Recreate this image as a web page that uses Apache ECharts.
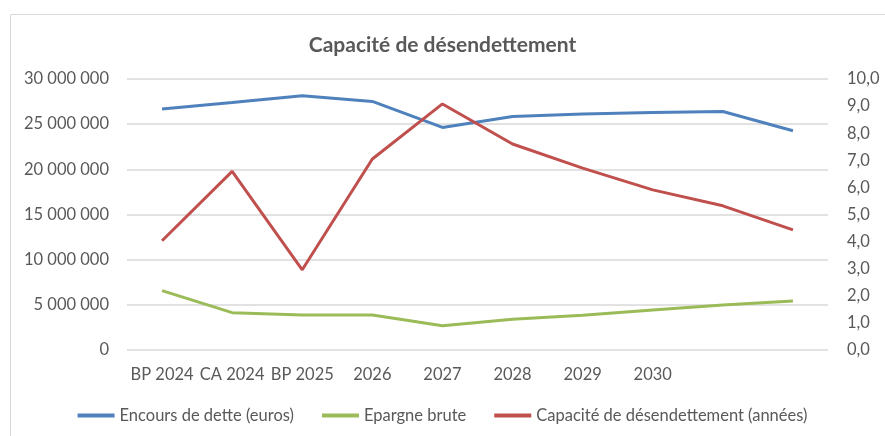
<!DOCTYPE html>
<html>
<head>
<meta charset="utf-8">
<script src="https://cdn.jsdelivr.net/npm/echarts@6/dist/echarts.min.js"></script>
<style>
	html, body { margin: 0; padding: 0; background: #fff; }
	#chart { width: 885px; height: 436px; }
</style>
</head>
<body>
<div id="chart"></div>
<script>
	var categories = ['BP 2024', 'CA 2024', 'BP 2025', '2026', '2027', '2028', '2029', '2030', '', ''];
	var encoursDette = [26680000, 27410000, 28150000, 27520000, 24640000, 25860000, 26120000, 26300000, 26410000, 24270000];
	var epargneBrute = [6570000, 4130000, 3880000, 3880000, 2690000, 3400000, 3850000, 4430000, 4990000, 5430000];
	var capaciteDesendettement = [4.03, 6.59, 2.96, 7.05, 9.08, 7.60, 6.71, 5.91, 5.32, 4.43];

	var textColor = '#595959';
	var fontFamily = 'Lato, "Open Sans", sans-serif';

	function formatEuros(v) {
		return String(v).replace(/\B(?=(\d{3})+(?!\d))/g, ' ');
	}

	var chart = echarts.init(document.getElementById('chart'));
	var option = {
		animation: false,
		textStyle: { fontFamily: fontFamily },
		graphic: [{
			type: 'rect',
			shape: { x: 10.5, y: 14.5, width: 900, height: 440 },
			style: { fill: 'none', stroke: '#d9d9d9', lineWidth: 1 },
			silent: true
		}],
		title: {
			text: 'Capacité de désendettement',
			left: 'center',
			top: 30,
			textStyle: {
				color: textColor,
				fontSize: 21,
				fontWeight: 'bold',
				fontFamily: fontFamily
			}
		},
		legend: {
			left: 'center',
			top: 402,
			icon: 'rect',
			itemWidth: 37,
			itemHeight: 4,
			itemGap: 28,
			textStyle: { color: textColor, fontSize: 16.5, fontFamily: fontFamily },
			data: ['Encours de dette (euros)', 'Epargne brute', 'Capacité de désendettement (années)']
		},
		grid: {
			left: 127,
			right: 57,
			top: 79,
			bottom: 86
		},
		xAxis: {
			type: 'category',
			data: categories,
			boundaryGap: true,
			axisLine: { show: false },
			axisTick: { show: false },
			axisLabel: {
				interval: 0,
				color: textColor,
				fontSize: 16.5,
				margin: 16,
				fontFamily: fontFamily
			}
		},
		yAxis: [{
				type: 'value',
				min: 0,
				max: 30000000,
				interval: 5000000,
				axisLine: { show: false },
				axisTick: { show: false },
				splitLine: { lineStyle: { color: '#d9d9d9', width: 1.5 } },
				axisLabel: {
					color: textColor,
					fontSize: 16.5,
					margin: 18,
					fontFamily: fontFamily,
					formatter: formatEuros
				}
			},
			{
				type: 'value',
				min: 0,
				max: 10,
				interval: 1,
				position: 'right',
				axisLine: { show: false },
				axisTick: { show: false },
				splitLine: { show: false },
				axisLabel: {
					color: textColor,
					fontSize: 16.5,
					margin: 19,
					fontFamily: fontFamily,
					formatter: function(v) {
						return v.toFixed(1).replace('.', ',');
					}
				}
			}
		],
		series: [{
				name: 'Encours de dette (euros)',
				type: 'line',
				data: encoursDette,
				showSymbol: false,
				color: '#4f81bd',
				lineStyle: { width: 3, color: '#4f81bd' }
			},
			{
				name: 'Epargne brute',
				type: 'line',
				data: epargneBrute,
				showSymbol: false,
				color: '#9bbb59',
				lineStyle: { width: 3, color: '#9bbb59' }
			},
			{
				name: 'Capacité de désendettement (années)',
				type: 'line',
				yAxisIndex: 1,
				data: capaciteDesendettement,
				showSymbol: false,
				color: '#c0504d',
				lineStyle: { width: 3, color: '#c0504d' }
			}
		]
	};
	chart.setOption(option);
</script>
</body>
</html>
